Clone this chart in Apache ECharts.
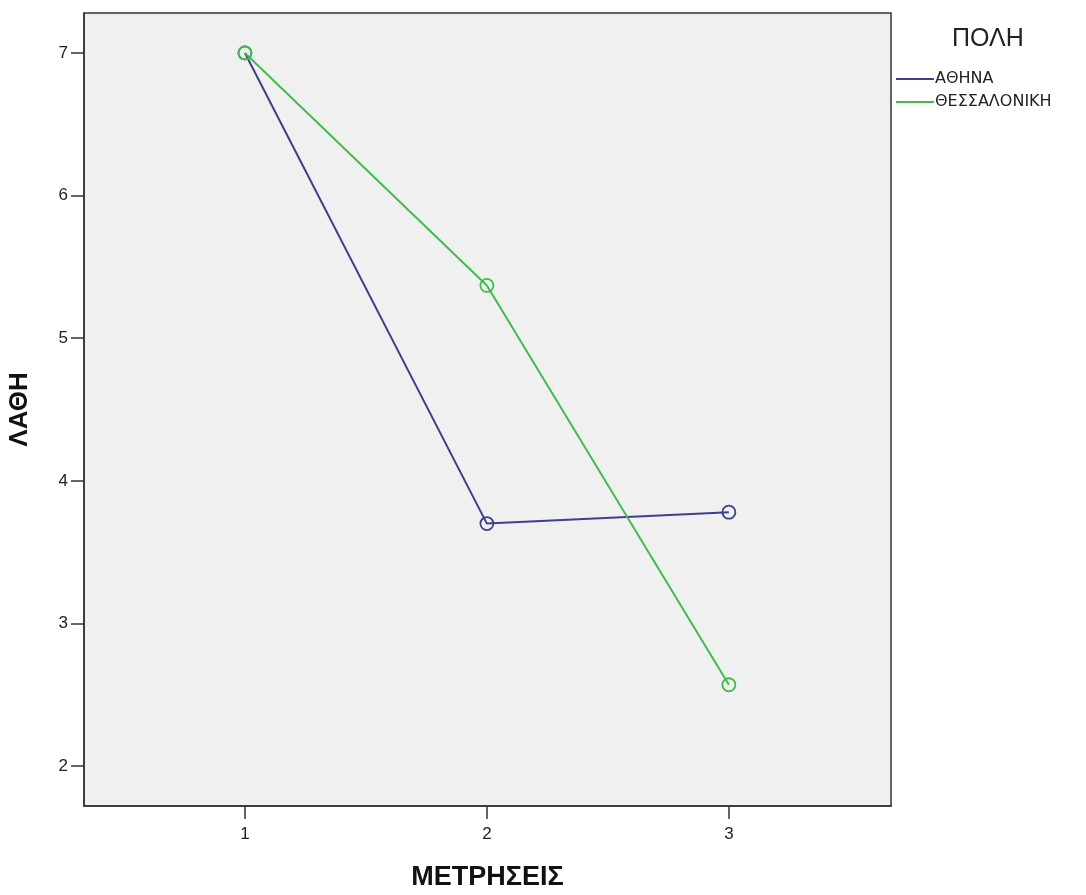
<!DOCTYPE html>
<html>
<head>
<meta charset="utf-8">
<script src="https://cdn.jsdelivr.net/npm/echarts@6/dist/echarts.min.js"></script>
<style>
html, body { margin: 0; padding: 0; background: #fff; }
#chart { width: 1086px; height: 895px; }
</style>
</head>
<body>
<div id="chart"></div>
<script>
// measurements on x, errors on y
var measures = [1, 2, 3];
var athens = [7, 3.70, 3.78];
var thessaloniki = [7, 5.37, 2.57];
var yTicks = [2, 3, 4, 5, 6, 7];
var seriesNames = ['ΑΘΗΝΑ', 'ΘΕΣΣΑΛΟΝΙΚΗ'];
var colors = ['#3d3f8f', '#3fbf4a'];

function pairs(vals) {
    return measures.map(function (m, i) { return [m, vals[i]]; });
}

var chart = echarts.init(document.getElementById('chart'));
var font = 'Liberation Sans, Arial, sans-serif';

function lineSeries(idx, vals) {
    return {
        name: seriesNames[idx],
        type: 'line',
        data: pairs(vals),
        color: colors[idx],
        symbol: 'circle',
        symbolSize: 13,
        lineStyle: { width: 2, color: colors[idx] },
        itemStyle: { color: 'rgba(0,0,0,0)', borderColor: colors[idx], borderWidth: 1.8 }
    };
}

chart.setOption({
    animation: false,
    title: {
        text: 'ΠΟΛΗ',
        left: 947,
        top: 22,
        textStyle: { fontFamily: font, fontSize: 25, fontWeight: 'normal', color: '#222' }
    },
    legend: {
        orient: 'vertical',
        left: 891,
        top: 66,
        itemGap: 7,
        itemWidth: 38,
        itemHeight: 2,
        icon: 'rect',
        textStyle: { fontFamily: 'DejaVu Sans, sans-serif', fontSize: 16, color: '#222', padding: [0, 0, 0, -4] },
        data: seriesNames.map(function (n, i) {
            return { name: n, itemStyle: { color: colors[i], borderWidth: 0 } };
        })
    },
    grid: {
        left: 84,
        top: 13,
        right: 195,
        bottom: 89,
        outerBoundsMode: 'none',
        show: true,
        backgroundColor: '#f0f0f0',
        borderColor: '#333',
        borderWidth: 1.5
    },
    xAxis: {
        type: 'value',
        min: 0.335,
        max: 3.67,
        name: 'ΜΕΤΡΗΣΕΙΣ',
        nameLocation: 'middle',
        nameGap: 58,
        nameTextStyle: { fontFamily: font, fontSize: 27, fontWeight: 'bold', color: '#111' },
        axisLine: { show: true, lineStyle: { color: '#333', width: 1.5 } },
        axisTick: { show: true, length: 13, customValues: measures, lineStyle: { color: '#333', width: 1.5 } },
        axisLabel: { customValues: measures, fontFamily: font, fontSize: 17, color: '#222', margin: 20 },
        splitLine: { show: false }
    },
    yAxis: {
        type: 'value',
        min: 1.72,
        max: 7.28,
        name: 'ΛΑΘΗ',
        nameLocation: 'middle',
        nameGap: 51,
        nameTextStyle: { fontFamily: font, fontSize: 26, fontWeight: 'bold', color: '#111' },
        axisLine: { show: true, lineStyle: { color: '#333', width: 1.5 } },
        axisTick: { show: true, length: 13, customValues: yTicks, lineStyle: { color: '#333', width: 1.5 } },
        axisLabel: { customValues: yTicks, fontFamily: font, fontSize: 17, color: '#222', margin: 16 },
        splitLine: { show: false }
    },
    series: [lineSeries(0, athens), lineSeries(1, thessaloniki)]
});
</script>
</body>
</html>
